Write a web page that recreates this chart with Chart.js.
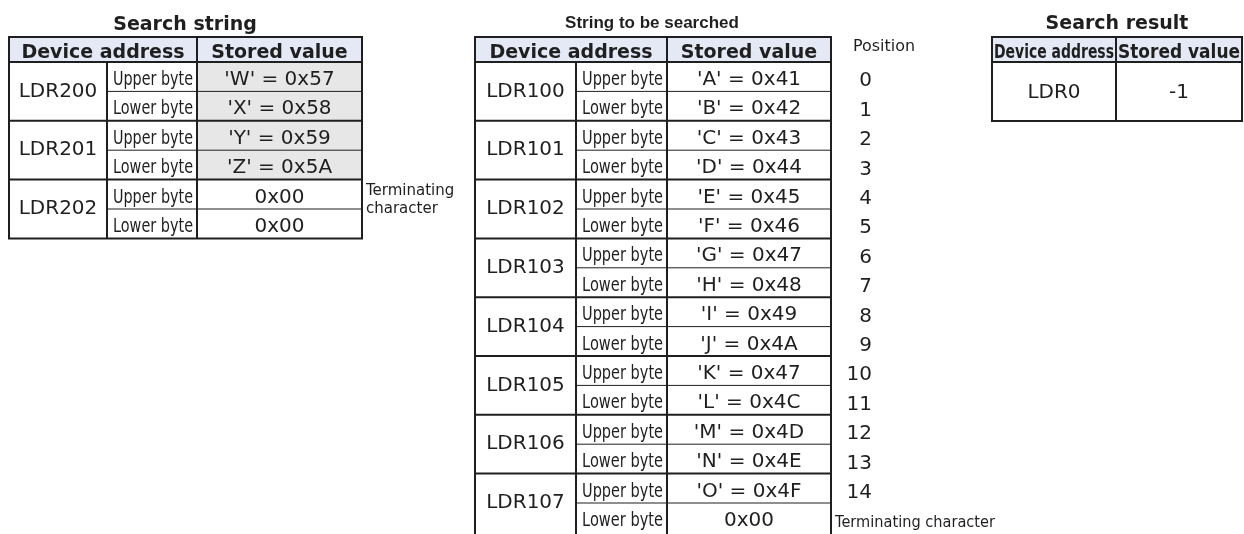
<!DOCTYPE html>
<html>
<head>
<meta charset="utf-8">
<script src="https://cdn.jsdelivr.net/npm/chart.js@4.4.0/dist/chart.umd.min.js"></script>
<style>
html,body{margin:0;padding:0;background:#fff;}
#wrap{width:1244px;height:534px;position:relative;}
</style>
</head>
<body>
<div id="wrap"><canvas id="c" width="1244" height="534"></canvas></div>
<script>
// ---- data ----
const titles = ['Search string', 'String to be searched', 'Search result'];
const headerLabels = ['Device address', 'Stored value'];
const byteLabels = ['Upper byte', 'Lower byte'];

const searchAddresses = ['LDR200', 'LDR201', 'LDR202'];
const searchValues = ["'W' = 0x57", "'X' = 0x58", "'Y' = 0x59", "'Z' = 0x5A", '0x00', '0x00'];
const searchShaded = [true, true, true, true, false, false];
const searchNote = ['Terminating', 'character'];

const targetAddresses = ['LDR100', 'LDR101', 'LDR102', 'LDR103', 'LDR104', 'LDR105', 'LDR106', 'LDR107'];
const targetValues = ["'A' = 0x41", "'B' = 0x42", "'C' = 0x43", "'D' = 0x44", "'E' = 0x45", "'F' = 0x46",
  "'G' = 0x47", "'H' = 0x48", "'I' = 0x49", "'J' = 0x4A", "'K' = 0x47", "'L' = 0x4C",
  "'M' = 0x4D", "'N' = 0x4E", "'O' = 0x4F", '0x00'];
const positionTitle = 'Position';
const positionLabels = ['0', '1', '2', '3', '4', '5', '6', '7', '8', '9', '10', '11', '12', '13', '14', 'Terminating character'];

const resultAddresses = ['LDR0'];
const resultValues = ['-1'];

// ---- layout (style, not data) ----
const HEAD_TOP = 37, HEAD_BOT = 62, ROW_H = 29.4;
const INK = '#1f1f1f', HEAD_BG = '#e4e9f5', SHADE_BG = '#e7e7e7';
const SANS = '"DejaVu Sans", Verdana, sans-serif';
const ARIAL = '"Liberation Sans", Arial, sans-serif';

const tablePlugin = {
  id: 'tables',
  afterDraw(chart) {
    const ctx = chart.ctx, xs = chart.scales.x, ys = chart.scales.y;
    const X = v => xs.getPixelForValue(v), Y = v => ys.getPixelForValue(v);

    function text(t, x, y, font, align, maxW, base) {
      ctx.save();
      ctx.font = font; ctx.fillStyle = INK;
      ctx.textAlign = align || 'center';
      ctx.textBaseline = base || 'alphabetic';
      if (maxW) ctx.fillText(t, X(x), Y(y), maxW); else ctx.fillText(t, X(x), Y(y));
      ctx.restore();
    }
    function fill(x0, y0, x1, y1, c) {
      ctx.fillStyle = c;
      ctx.fillRect(X(x0), Y(y0), X(x1) - X(x0), Y(y1) - Y(y0));
    }
    function line(x0, y0, x1, y1, w) {
      ctx.save();
      ctx.strokeStyle = INK; ctx.lineWidth = w;
      ctx.beginPath(); ctx.moveTo(X(x0), Y(y0)); ctx.lineTo(X(x1), Y(y1)); ctx.stroke();
      ctx.restore();
    }

    // two-level table (address, byte, value)
    function byteTable(x0, xb, xv, x1, addrs, vals, shaded, openBottom) {
      const nRows = vals.length;
      const bottom = HEAD_BOT + nRows * ROW_H + (openBottom ? 6 : 0);
      fill(x0, HEAD_TOP, x1, HEAD_BOT, HEAD_BG);
      vals.forEach((v, i) => {
        if (shaded && shaded[i]) fill(xv, HEAD_BOT + i * ROW_H, x1, HEAD_BOT + (i + 1) * ROW_H, SHADE_BG);
      });
      text(headerLabels[0], (x0 + xv) / 2, HEAD_BOT - 4.5, 'bold 19px ' + SANS, 'center', xv - x0 - 20);
      text(headerLabels[1], (xv + x1) / 2, HEAD_BOT - 4.5, 'bold 19px ' + SANS, 'center', x1 - xv - 20);
      addrs.forEach((a, g) => {
        const gt = HEAD_BOT + g * 2 * ROW_H;
        text(a, (x0 + xb) / 2, gt + ROW_H, '20px ' + SANS, 'center', xb - x0 - 8, 'middle');
        if (g > 0) line(x0, gt, x1, gt, 2);
        line(xb, gt + ROW_H, x1, gt + ROW_H, 1);
      });
      vals.forEach((v, i) => {
        const rb = HEAD_BOT + (i + 1) * ROW_H;
        text(byteLabels[i % 2], (xb + xv) / 2 + 1, rb - 6.5, '20px ' + SANS, 'center', xv - xb - 10);
        text(v, (xv + x1) / 2, rb - 6.5, '20px ' + SANS, 'center');
      });
      line(x0, HEAD_BOT, x1, HEAD_BOT, 2);
      line(xb, HEAD_BOT, xb, bottom, 2);
      line(xv, HEAD_TOP, xv, bottom, 2);
      // outer border
      line(x0 - 1, HEAD_TOP, x1 + 1, HEAD_TOP, 2);
      line(x0, HEAD_TOP, x0, bottom, 2);
      line(x1, HEAD_TOP, x1, bottom, 2);
      if (!openBottom) line(x0 - 1, bottom, x1 + 1, bottom, 2);
    }

    // Search string
    text(titles[0], 185, 30, 'bold 19px ' + SANS, 'center', 150);
    byteTable(9, 107, 197, 362, searchAddresses, searchValues, searchShaded, false);
    text(searchNote[0], 366, 195, '15px ' + SANS, 'left', 99);
    text(searchNote[1], 366, 213, '15px ' + SANS, 'left', 99);

    // String to be searched
    text(titles[1], 652, 28, 'bold 17px ' + ARIAL, 'center', 220);
    byteTable(475, 576, 667, 831, targetAddresses, targetValues, null, true);
    text(positionTitle, 853, 51, '16px ' + SANS, 'left', 62);
    positionLabels.forEach((p, i) => {
      const rb = HEAD_BOT + (i + 1) * ROW_H;
      if (i < positionLabels.length - 1) text(p, 872, rb - 5, '20px ' + SANS, 'right');
      else text(p, 835, 527, '16px ' + SANS, 'left', 160);
    });

    // Search result
    text(titles[2], 1117, 29, 'bold 19px ' + SANS, 'center', 150);
    const rx0 = 992, rxv = 1116, rx1 = 1242, rBot = 121;
    fill(rx0, HEAD_TOP, rx1, HEAD_BOT, HEAD_BG);
    text(headerLabels[0], (rx0 + rxv) / 2, HEAD_BOT - 4.5, 'bold 19px ' + SANS, 'center', rxv - rx0 - 4);
    text(headerLabels[1], (rxv + rx1) / 2, HEAD_BOT - 4.5, 'bold 19px ' + SANS, 'center', rx1 - rxv - 4);
    text(resultAddresses[0], (rx0 + rxv) / 2, (HEAD_BOT + rBot) / 2 + 1, '20px ' + SANS, 'center', null, 'middle');
    text(resultValues[0], (rxv + rx1) / 2, (HEAD_BOT + rBot) / 2 + 1, '20px ' + SANS, 'center', null, 'middle');
    line(rx0, HEAD_BOT, rx1, HEAD_BOT, 2);
    line(rxv, HEAD_TOP, rxv, rBot, 2);
    ctx.save();
    ctx.strokeStyle = INK; ctx.lineWidth = 2;
    ctx.strokeRect(X(rx0), Y(HEAD_TOP), X(rx1) - X(rx0), Y(rBot) - Y(HEAD_TOP));
    ctx.restore();
  }
};

new Chart(document.getElementById('c'), {
  type: 'scatter',
  data: { datasets: [{ data: [], pointRadius: 0 }] },
  options: {
    responsive: false,
    animation: false,
    events: [],
    layout: { padding: 0 },
    plugins: { legend: { display: false }, tooltip: { enabled: false }, title: { display: false } },
    scales: {
      x: { type: 'linear', min: 0, max: 1244, display: false },
      y: { type: 'linear', min: 0, max: 534, reverse: true, display: false }
    }
  },
  plugins: [tablePlugin]
});
</script>
</body>
</html>
